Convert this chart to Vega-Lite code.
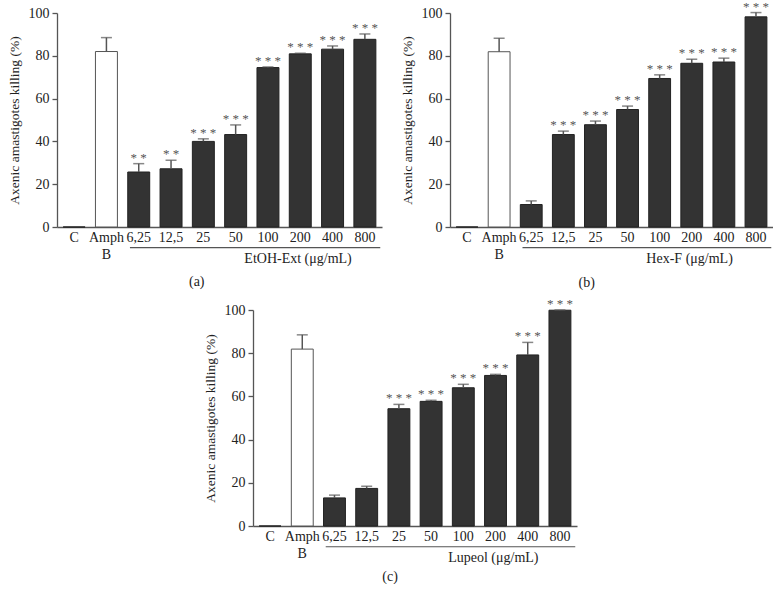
{
  "$schema": "https://vega.github.io/schema/vega-lite/v6.json",
  "padding": {"left": 7, "top": 0, "right": 0, "bottom": 0},
  "background": "white",
  "config": {
    "font": "Liberation Serif",
    "view": {"stroke": null},
    "axis": {"domainColor": "#555", "domainWidth": 1.3, "tickColor": "#555", "tickWidth": 1.3, "labelFont": "Liberation Serif", "titleFont": "Liberation Serif", "labelFontSize": 14, "titleFontSize": 13.5, "labelColor": "#222", "titleColor": "#222", "titleFontWeight": "normal", "grid": false},
    "axisY": {"values": [0,20,40,60,80,100], "tickSize": 5, "labelPadding": 3, "titlePadding": 7},
    "axisX": {"ticks": false, "labelAngle": 0, "labelPadding": 3, "labelLineHeight": 17, "labelExpr": "datum.label == 'Amph B' ? ['Amph', 'B'] : datum.label"},
    "text": {"font": "Liberation Serif"}
  },
  "datasets": {
    "a": [
      {"label": "C", "value": 0, "err": 0, "stars": ""},
      {"label": "Amph B", "value": 82, "err": 88.5, "stars": ""},
      {"label": "6,25", "value": 25.7, "err": 29.6, "stars": "* *"},
      {"label": "12,5", "value": 27.2, "err": 31.2, "stars": "* *"},
      {"label": "25", "value": 40, "err": 41.2, "stars": "* * *"},
      {"label": "50", "value": 43.2, "err": 47.7, "stars": "* * *"},
      {"label": "100", "value": 74.5, "err": 74.8, "stars": "* * *"},
      {"label": "200", "value": 80.9, "err": 81.2, "stars": "* * *"},
      {"label": "400", "value": 83.1, "err": 84.6, "stars": "* * *"},
      {"label": "800", "value": 87.7, "err": 90.2, "stars": "* * *"}
    ],
    "b": [
      {"label": "C", "value": 0, "err": 0, "stars": ""},
      {"label": "Amph B", "value": 81.9, "err": 88.2, "stars": ""},
      {"label": "6,25", "value": 10.5, "err": 12.2, "stars": ""},
      {"label": "12,5", "value": 43.2, "err": 44.8, "stars": "* * *"},
      {"label": "25", "value": 47.8, "err": 49.5, "stars": "* * *"},
      {"label": "50", "value": 54.9, "err": 56.5, "stars": "* * *"},
      {"label": "100", "value": 69.4, "err": 71.1, "stars": "* * *"},
      {"label": "200", "value": 76.5, "err": 78.4, "stars": "* * *"},
      {"label": "400", "value": 77.1, "err": 78.9, "stars": "* * *"},
      {"label": "800", "value": 98.2, "err": 100.2, "stars": "* * *"}
    ],
    "c": [
      {"label": "C", "value": 0, "err": 0, "stars": ""},
      {"label": "Amph B", "value": 81.9, "err": 88.5, "stars": ""},
      {"label": "6,25", "value": 13.0, "err": 14.3, "stars": ""},
      {"label": "12,5", "value": 17.4, "err": 18.4, "stars": ""},
      {"label": "25", "value": 54.3, "err": 56.3, "stars": "* * *"},
      {"label": "50", "value": 57.7, "err": 58.2, "stars": "* * *"},
      {"label": "100", "value": 64.0, "err": 65.6, "stars": "* * *"},
      {"label": "200", "value": 69.7, "err": 70.2, "stars": "* * *"},
      {"label": "400", "value": 79.2, "err": 85.0, "stars": "* * *"},
      {"label": "800", "value": 99.9, "err": 100, "stars": "* * *"}
    ]
  },
  "vconcat": [
    {
      "hconcat": [
        {
          "width": 325, "height": 214,
          "data": {"name": "a"},
          "layer": [
            {"mark": {"type": "bar", "strokeWidth": 1}, "encoding": {
              "x": {"field": "label", "type": "nominal", "title": null, "scale": {"domain": ["C","Amph B","6,25","12,5","25","50","100","200","400","800"], "paddingInner": 0.32, "paddingOuter": 0.19}},
              "y": {"field": "value", "type": "quantitative", "title": "Axenic amastigotes killing (%)", "scale": {"domain": [0, 100], "nice": false}},
              "fill": {"condition": {"test": "datum.label == 'Amph B'", "value": "white"}, "value": "#333333"},
              "stroke": {"condition": {"test": "datum.label == 'Amph B'", "value": "#555"}, "value": "#222"}
            }},
            {"transform": [{"filter": "datum.err > datum.value"}], "mark": {"type": "rule", "color": "#555", "strokeWidth": 1.5}, "encoding": {"x": {"field": "label", "type": "nominal", "title": null}, "y": {"field": "value", "type": "quantitative", "title": "Axenic amastigotes killing (%)"}, "y2": {"field": "err"}}},
            {"transform": [{"filter": "datum.err > datum.value"}], "mark": {"type": "tick", "color": "#555", "thickness": 1.5, "size": 11}, "encoding": {"x": {"field": "label", "type": "nominal", "title": null}, "y": {"field": "err", "type": "quantitative", "title": "Axenic amastigotes killing (%)"}}},
            {"mark": {"type": "text", "color": "#555", "fontSize": 13, "dy": -2, "baseline": "alphabetic"}, "encoding": {"x": {"field": "label", "type": "nominal", "title": null}, "y": {"field": "err", "type": "quantitative", "title": "Axenic amastigotes killing (%)"}, "text": {"field": "stars"}}},
            {"data": {"values": [{"name": "EtOH-Ext (μg/mL)", "tag": "(a)"}]}, "mark": {"type": "rule", "color": "#555", "strokeWidth": 1.2}, "encoding": {"x": {"datum": "6,25", "bandPosition": 0.1}, "x2": {"datum": "800", "bandPosition": 1.2}, "y": {"datum": -9.6}}},
            {"data": {"values": [{"name": "EtOH-Ext (μg/mL)", "tag": "(a)"}]}, "mark": {"type": "text", "fontSize": 14, "color": "#222", "baseline": "middle"}, "encoding": {"x": {"datum": "200", "bandPosition": 0.4}, "y": {"datum": -14.8}, "text": {"field": "name"}}},
            {"data": {"values": [{"name": "EtOH-Ext (μg/mL)", "tag": "(a)"}]}, "mark": {"type": "text", "fontSize": 14, "color": "#222", "baseline": "middle"}, "encoding": {"x": {"datum": "25", "bandPosition": 0.2}, "y": {"datum": -25.5}, "text": {"field": "tag"}}}
          ]
        },
        {
          "width": 323, "height": 214,
          "data": {"name": "b"},
          "layer": [
            {"mark": {"type": "bar", "strokeWidth": 1}, "encoding": {
              "x": {"field": "label", "type": "nominal", "title": null, "scale": {"domain": ["C","Amph B","6,25","12,5","25","50","100","200","400","800"], "paddingInner": 0.32, "paddingOuter": 0.19}},
              "y": {"field": "value", "type": "quantitative", "title": "Axenic amastigotes killing (%)", "scale": {"domain": [0, 100], "nice": false}},
              "fill": {"condition": {"test": "datum.label == 'Amph B'", "value": "white"}, "value": "#333333"},
              "stroke": {"condition": {"test": "datum.label == 'Amph B'", "value": "#555"}, "value": "#222"}
            }},
            {"transform": [{"filter": "datum.err > datum.value"}], "mark": {"type": "rule", "color": "#555", "strokeWidth": 1.5}, "encoding": {"x": {"field": "label", "type": "nominal", "title": null}, "y": {"field": "value", "type": "quantitative", "title": "Axenic amastigotes killing (%)"}, "y2": {"field": "err"}}},
            {"transform": [{"filter": "datum.err > datum.value"}], "mark": {"type": "tick", "color": "#555", "thickness": 1.5, "size": 11}, "encoding": {"x": {"field": "label", "type": "nominal", "title": null}, "y": {"field": "err", "type": "quantitative", "title": "Axenic amastigotes killing (%)"}}},
            {"mark": {"type": "text", "color": "#555", "fontSize": 13, "dy": -2, "baseline": "alphabetic"}, "encoding": {"x": {"field": "label", "type": "nominal", "title": null}, "y": {"field": "err", "type": "quantitative", "title": "Axenic amastigotes killing (%)"}, "text": {"field": "stars"}}},
            {"data": {"values": [{"name": "Hex-F (μg/mL)", "tag": "(b)"}]}, "mark": {"type": "rule", "color": "#555", "strokeWidth": 1.2}, "encoding": {"x": {"datum": "6,25", "bandPosition": 0.1}, "x2": {"datum": "800", "bandPosition": 1.2}, "y": {"datum": -9.6}}},
            {"data": {"values": [{"name": "Hex-F (μg/mL)", "tag": "(b)"}]}, "mark": {"type": "text", "fontSize": 14, "color": "#222", "baseline": "middle"}, "encoding": {"x": {"datum": "200", "bandPosition": 0.4}, "y": {"datum": -14.8}, "text": {"field": "name"}}},
            {"data": {"values": [{"name": "Hex-F (μg/mL)", "tag": "(b)"}]}, "mark": {"type": "text", "fontSize": 14, "color": "#222", "baseline": "middle"}, "encoding": {"x": {"datum": "25", "bandPosition": 0.1}, "y": {"datum": -26}, "text": {"field": "tag"}}}
          ]
        }
      ],
      "spacing": 18
    },
    {
      "width": 324, "height": 216,
      "data": {"name": "c"},
      "layer": [
        {"mark": {"type": "bar", "strokeWidth": 1}, "encoding": {
          "x": {"field": "label", "type": "nominal", "title": null, "scale": {"domain": ["C","Amph B","6,25","12,5","25","50","100","200","400","800"], "paddingInner": 0.32, "paddingOuter": 0.19}},
          "y": {"field": "value", "type": "quantitative", "title": "Axenic amastigotes killing (%)", "scale": {"domain": [0, 100], "nice": false}},
          "fill": {"condition": {"test": "datum.label == 'Amph B'", "value": "white"}, "value": "#333333"},
          "stroke": {"condition": {"test": "datum.label == 'Amph B'", "value": "#555"}, "value": "#222"}
        }},
        {"transform": [{"filter": "datum.err > datum.value"}], "mark": {"type": "rule", "color": "#555", "strokeWidth": 1.5}, "encoding": {"x": {"field": "label", "type": "nominal", "title": null}, "y": {"field": "value", "type": "quantitative", "title": "Axenic amastigotes killing (%)"}, "y2": {"field": "err"}}},
        {"transform": [{"filter": "datum.err > datum.value"}], "mark": {"type": "tick", "color": "#555", "thickness": 1.5, "size": 11}, "encoding": {"x": {"field": "label", "type": "nominal", "title": null}, "y": {"field": "err", "type": "quantitative", "title": "Axenic amastigotes killing (%)"}}},
        {"mark": {"type": "text", "color": "#555", "fontSize": 13, "dy": -2, "baseline": "alphabetic"}, "encoding": {"x": {"field": "label", "type": "nominal", "title": null}, "y": {"field": "err", "type": "quantitative", "title": "Axenic amastigotes killing (%)"}, "text": {"field": "stars"}}},
        {"data": {"values": [{"name": "Lupeol (μg/mL)", "tag": "(c)"}]}, "mark": {"type": "rule", "color": "#555", "strokeWidth": 1.2}, "encoding": {"x": {"datum": "6,25", "bandPosition": 0.1}, "x2": {"datum": "800", "bandPosition": 1.2}, "y": {"datum": -9.6}}},
        {"data": {"values": [{"name": "Lupeol (μg/mL)", "tag": "(c)"}]}, "mark": {"type": "text", "fontSize": 14, "color": "#222", "baseline": "middle"}, "encoding": {"x": {"datum": "200", "bandPosition": 0.4}, "y": {"datum": -14.8}, "text": {"field": "name"}}},
        {"data": {"values": [{"name": "Lupeol (μg/mL)", "tag": "(c)"}]}, "mark": {"type": "text", "fontSize": 14, "color": "#222", "baseline": "middle"}, "encoding": {"x": {"datum": "25", "bandPosition": 0.1}, "y": {"datum": -23.5}, "text": {"field": "tag"}}}
      ]
    }
  ],
  "center": true,
  "spacing": 8
}
